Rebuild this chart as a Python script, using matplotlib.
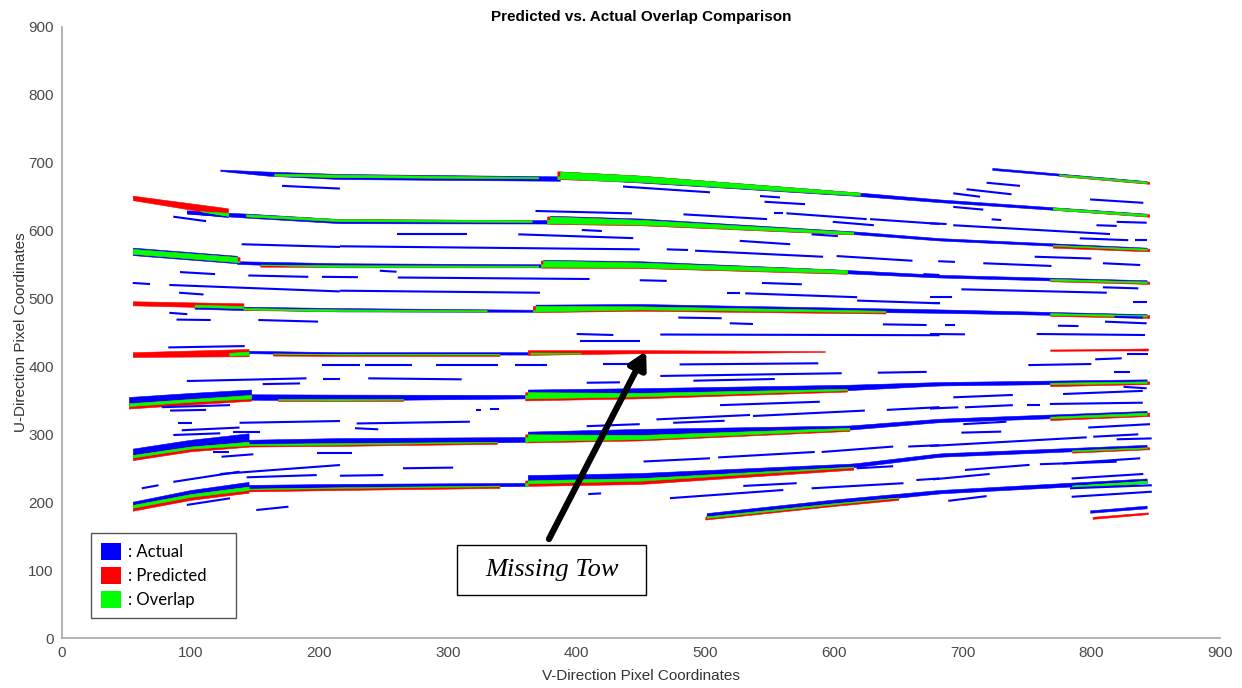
import numpy as np
import matplotlib
matplotlib.use("Agg")
import matplotlib.pyplot as plt
from matplotlib.patches import Patch, Rectangle

BLUE, RED, GREEN = "#0000ff", "#ff0000", "#00ff00"

# thick tows, each as (v points, top edge u, bottom edge u)
# course A (v ~ 55..147)
ACTUAL_A = [
    ([97, 129], [630, 626], [626, 620]),
    ([55, 136], [575, 563], [564, 552]),
    ([103, 141], [491, 489], [485, 483]),
    ([130, 145], [420, 422], [416, 417]),
    ([52, 100, 147], [355, 361, 366], [341.7, 348, 353]),
    ([55, 100, 145], [279, 292, 301.5], [266, 279, 284]),
    ([55, 100, 145], [200.8, 218, 230], [192, 208, 218]),
]
PRED_A = [
    ([55, 129], [651.5, 633], [645, 622]),
    ([55, 138], [573, 561], [566, 553.5]),
    ([55, 141], [496, 493], [490, 486]),
    ([55, 145], [421, 425.7], [414, 415]),
    ([52, 100, 147], [345.7, 352, 358], [338, 344, 349.5]),
    ([55, 100, 145], [269.6, 282, 289], [262, 275, 281.8]),
    ([55, 100, 145], [196, 212, 223], [187.5, 203.5, 214]),
]

# course B (v ~ 123..387)
ACTUAL_B = [
    ([123, 160, 216, 387], [690, 687, 683.5, 680], [688, 681, 676, 673.5]),
    ([97, 145, 216, 379], [629, 625, 617, 615.5], [625, 619, 611, 610.5]),
    ([136, 216, 374], [555, 552, 550.5], [551, 546, 546]),
    ([141, 216, 368], [488, 486, 483.5], [484, 481, 480.5]),
    ([145, 216, 362], [423, 421, 421], [419.5, 417.5, 417.5]),
    ([147, 216, 362], [359, 358.5, 358], [351, 350, 353]),
    ([145, 216, 362], [292, 294.5, 296], [284, 285, 289]),
    ([145, 216, 362], [225.5, 227, 228.5], [219, 221, 224]),
]
PRED_B = [
    ([165, 216, 370], [684, 682.5, 679], [681, 679, 677]),
    ([143, 216, 365], [624, 617, 615.5], [621, 614, 613]),
    ([154, 216, 370], [550, 549, 548.5], [547, 546.5, 546.5]),
    ([141, 216, 330], [486, 484, 483], [483, 481.5, 481]),
    ([164, 216, 340], [419, 418.5, 418.5], [416, 415.5, 415.5]),
    ([168, 265], [352, 352], [348.5, 348.5]),
    ([145, 216, 338], [286, 287, 289], [282, 283, 286]),
    ([145, 216, 340], [220, 222, 224.5], [216, 218, 221]),
]

# course C (v ~ 362..845)
ACTUAL_C = [
    ([723, 843], [692.5, 673], [689.5, 670]),
    ([387, 449, 620, 682, 843], [687, 681, 656, 646, 625], [677, 671, 651, 642, 621.5]),
    ([379, 449, 615, 682, 843], [622, 618, 599, 589, 575], [611, 609, 595, 585.5, 571.5]),
    ([374, 449, 600, 682, 843], [557, 555, 543, 535, 527], [547, 546, 538, 531, 523]),
    ([368, 449, 682, 843], [491, 492, 484, 477], [481, 484, 479, 473.5]),
    ([364, 403], [420.5, 420], [418.5, 419]),
    ([362, 449, 610, 682, 843], [366, 368, 373, 377, 381], [353, 356, 365, 372, 375.5]),
    ([362, 449, 612, 682, 843], [304, 308, 313, 323, 334.5], [290, 293, 307, 318, 328.5]),
    ([362, 449, 615, 682, 843], [240, 243, 257, 272, 284.5], [228, 231.7, 251.5, 267, 279.5]),
    ([501, 600, 682, 843], [184, 204, 218, 235], [177, 197, 213, 229]),
    ([785, 843], [224.5, 231.5], [221.5, 228.5]),
    ([799, 843], [188, 195], [184.5, 191]),
]
PRED_C = [
    ([775, 845], [683, 672], [680.5, 669]),
    ([385, 449, 620], [687.5, 681, 656], [676, 672, 652]),
    ([770, 845], [634, 624], [631, 620.5]),
    ([377, 449, 615], [621, 616, 598], [610, 608, 594.5]),
    ([770, 845], [579, 573.5], [575, 569.5]),
    ([372, 449, 610], [556, 553, 542], [545.5, 545, 536.5]),
    ([768, 845], [529, 525], [525.5, 521.5]),
    ([366, 449, 640], [489, 488.5, 482], [480, 482, 478]),
    ([768, 845], [478.5, 475.5], [474.5, 471.5]),
    ([362, 449, 548, 593], [424, 424, 423, 422.5], [417, 419.5, 420.5, 421.5]),
    ([768, 810, 844], [425, 425.5, 426.5], [423, 423.5, 423.5]),
    ([360, 449, 610], [362, 361, 367], [350, 353, 363]),
    ([768, 845], [376, 378], [371, 374]),
    ([360, 449, 612], [300, 299, 309.5], [288, 291, 305]),
    ([768, 845], [326, 332], [321, 327]),
    ([360, 449, 615], [232, 235.4, 252.5], [224, 226.8, 248]),
    ([785, 845], [276.5, 281], [273, 278]),
    ([500, 600, 650], [179, 198.5, 207], [174.5, 194.5, 203.5]),
    ([785, 843], [224.5, 231.5], [221.5, 228.5]),
    ([801, 844], [178.5, 185], [175.5, 182.5]),
]

# thin "actual" streaks: (v0, u0, v1, u1)
STREAKS_LEFT = [
    (171, 666, 216, 662), (86.5, 620.6, 112, 614), (139.6, 580, 216, 576),
    (216, 577, 449, 572.5), (91.7, 539, 119, 536), (144.8, 534, 191.4, 532),
    (202, 532, 230, 531.5), (247, 541, 260, 539.5), (261, 531, 410, 528.8),
    (55, 523, 68.4, 521.4), (83.4, 520, 216, 510.5), (216, 511.6, 371.5, 508.6),
    (91, 508.6, 110, 506), (83.4, 479, 97.4, 477), (89, 469, 115.6, 468.4),
    (152.6, 468.4, 199, 466), (82.6, 428, 142, 430), (97, 378.5, 190, 382.5),
    (156, 374, 185, 375), (202, 402, 231.6, 402), (235.5, 402, 271.8, 402),
    (291, 402, 339, 402), (352, 402, 376.7, 402), (203, 381, 216, 381),
    (238, 382.5, 310.6, 381), (77.5, 340, 130.6, 343), (84, 335, 112, 336),
    (90.4, 316, 100.8, 316), (93, 306, 138, 310), (86.5, 299, 123, 301.5),
    (138, 317, 216, 319.6), (229, 316, 317, 318.6), (227.7, 309, 245.8, 307.4),
    (133, 304, 154, 304), (117, 274, 130, 274), (124, 267, 148.7, 270.6),
    (198, 272, 225, 272), (62, 220.5, 75, 225), (86.5, 230, 138, 245),
    (123, 241.6, 216, 254.8), (143.5, 236.7, 198, 240), (216, 239, 249.7, 240),
    (265, 250, 304, 251), (97, 196, 130.6, 205.8), (151, 188.5, 176, 193.4),
    (322, 336, 326, 336), (333, 337, 340, 337),
]
STREAKS_MID = [
    (368, 629, 443, 625.5), (436, 665, 503.6, 656.5), (404, 601, 419.6, 599.5),
    (354.6, 594.6, 444, 589), (260, 595, 315, 595), (400, 447.8, 428.5, 446.3),
    (402.6, 438, 449, 438), (420.7, 403.6, 441, 403.6), (407.8, 376, 433.7, 376.6),
    (407.8, 312, 449, 315), (409, 212, 419, 213),
    (542.5, 651, 558, 649), (546, 642.6, 577.5, 639), (553, 626.5, 560.6, 626.5),
    (483, 624, 548, 617), (563, 625.6, 625.4, 617), (599, 613, 631, 608),
    (628, 617, 682, 610), (582.6, 594.6, 603, 592), (526.7, 585, 566, 580),
    (470, 572.5, 486.6, 571.5), (492, 570.5, 591.5, 561.6), (602, 562.6, 661, 555.7),
    (669.4, 536, 682, 534.7), (449, 527, 470, 526), (544, 523, 575, 521),
    (516.6, 508.6, 527, 508.6), (531, 507.7, 618, 502), (618, 497, 682, 493),
    (479, 472, 512.7, 471), (519, 463.6, 537, 462.5), (465, 447, 682, 446),
    (638, 462, 672, 461), (480, 403, 587.8, 404.6), (465, 386, 606, 390),
    (490.7, 379, 554, 381.5), (634, 390.8, 672, 392), (511.4, 343, 589, 348),
    (462, 322, 534.7, 328.5), (475, 317, 515, 320), (537, 327, 624, 335),
    (641, 336, 682, 340), (452, 260, 503.6, 264.7), (510, 266, 585, 274),
    (590.4, 274, 646, 282), (657.7, 282, 682, 284), (617.6, 250, 646, 253),
    (529.5, 224, 571, 228), (582.6, 220.5, 654, 228), (472.5, 206, 560.6, 218),
    (664, 232.7, 682, 235),
]
STREAKS_RIGHT = [
    (718.6, 670.6, 744.6, 666), (703, 661, 738, 653.6), (692.7, 655, 713.5, 650),
    (799, 646, 840.4, 641), (692.7, 635, 716, 631), (722.5, 616.7, 730, 615.7),
    (674.6, 610.8, 687.5, 609.8), (692.7, 608, 814.5, 595), (804, 608, 819.7, 607),
    (819.7, 613, 843, 611.7), (791, 588.7, 828.7, 586), (834, 586, 843, 586),
    (681, 555, 694, 554), (716, 552, 769, 548), (756, 561.6, 800, 559),
    (809, 552, 838, 549.4), (699, 513.6, 812, 508.6), (809, 516.6, 836.5, 515),
    (674.6, 502, 691.4, 502), (674.6, 493, 682, 493), (832.6, 495.4, 843, 495.4),
    (686, 461, 694, 461), (774, 460, 790, 459.5), (674.6, 447.8, 701.8, 447.3),
    (757.5, 447.8, 841.7, 446.3), (810.6, 466, 843, 463.5), (818, 473, 840, 472),
    (827.4, 417.8, 844, 417.8), (803, 410.5, 823.6, 412), (751, 402, 800, 403.6),
    (818, 392, 830, 392), (825, 370, 843, 367.8), (778, 359.4, 840, 364),
    (692.7, 354.5, 739, 358), (674.6, 338, 696.6, 339.8), (701.8, 339.8, 739, 343),
    (749.7, 343, 760, 343), (767.8, 344.7, 840, 346.6), (700.5, 315, 734, 318.6),
    (699, 302.5, 730, 304), (797.6, 310, 845.6, 315), (674.6, 282.8, 796.4, 295.6),
    (801.5, 296.5, 836.5, 300), (819.7, 292.7, 846.9, 294), (677, 233.7, 721, 241.6),
    (701.8, 247.5, 752, 255), (760, 256, 819.7, 259.7), (778, 257, 838, 264.7),
    (688.8, 202, 718.6, 209), (784.7, 235, 840.4, 241.6), (783.4, 220.5, 847, 225),
    (784.7, 208, 847, 215.5),
]

LEGEND_LABELS = [": Actual", ": Predicted", ": Overlap"]
NOTE_TEXT = "Missing Tow"
NOTE_TAIL = (378.5, 145.8)
NOTE_TIP = (454, 422.7)

TITLE = "Predicted vs. Actual Overlap Comparison"
X_LABEL = "V-Direction Pixel Coordinates"
Y_LABEL = "U-Direction Pixel Coordinates"
X_TICKS = np.arange(0, 901, 100)
Y_TICKS = np.arange(0, 901, 100)


def edges(band, xs):
    x, top, bot = band
    return np.interp(xs, x, top), np.interp(xs, x, bot)


def draw_band(ax, band, color):
    xs = np.linspace(band[0][0], band[0][-1], 80)
    top, bot = edges(band, xs)
    ax.fill_between(xs, bot, top, color=color, lw=0.4, edgecolor=color)


def draw_overlap(ax, act, pred):
    # green where the predicted tow and the actual tow cover the same pixels
    lo = max(act[0][0], pred[0][0])
    hi = min(act[0][-1], pred[0][-1])
    if hi <= lo:
        return
    xs = np.linspace(lo, hi, 240)
    at, ab = edges(act, xs)
    pt, pb = edges(pred, xs)
    top = np.minimum(at, pt)
    bot = np.maximum(ab, pb)
    if np.any(top > bot):
        ax.fill_between(xs, bot, top, where=top > bot, interpolate=True,
                        color=GREEN, lw=0.4, edgecolor=GREEN)


plt.rcParams['font.family'] = ['Liberation Sans', 'DejaVu Sans']

fig = plt.figure(figsize=(12.42, 6.88), dpi=100)
ax = fig.add_axes([62 / 1242, 50 / 688, 1158 / 1242, 611 / 688])

actual = ACTUAL_A + ACTUAL_B + ACTUAL_C
predicted = PRED_A + PRED_B + PRED_C

for v0, u0, v1, u1 in STREAKS_LEFT + STREAKS_MID + STREAKS_RIGHT:
    ax.plot([v0, v1], [u0, u1], color=BLUE, lw=1.5, solid_capstyle='butt')
for band in actual:
    draw_band(ax, band, BLUE)
for band in predicted:
    draw_band(ax, band, RED)
for a in actual:
    for p in predicted:
        draw_overlap(ax, a, p)

ax.set_xlim(0, 900)
ax.set_ylim(0, 900)
ax.set_xticks(X_TICKS)
ax.set_yticks(Y_TICKS)
ax.tick_params(length=0, labelsize=11, labelcolor='#4a4a4a', pad=6)
for side in ['top', 'right']:
    ax.spines[side].set_visible(False)
for side in ['left', 'bottom']:
    ax.spines[side].set_color('#a6a6a6')
    ax.spines[side].set_linewidth(1.2)

ax.set_title(TITLE, fontsize=11, fontweight='bold', pad=4)
ax.set_xlabel(X_LABEL, fontsize=11, color='#333333', labelpad=6)
ax.set_ylabel(Y_LABEL, fontsize=11, color='#333333', labelpad=0)

# legend
handles = [Patch(facecolor=c, edgecolor='none') for c in (BLUE, RED, GREEN)]
leg = ax.legend(handles, LEGEND_LABELS, loc='lower left',
                bbox_to_anchor=(29 / 1158, 20 / 611, 145 / 1158, 0.1),
                mode='expand', borderaxespad=0, fancybox=False,
                frameon=True, framealpha=1, edgecolor='#555555',
                prop={'family': 'Lato', 'size': 12},
                handlelength=1.2, handleheight=1.15, handletextpad=0.45,
                labelspacing=0.42, borderpad=0.6)
leg.get_frame().set_linewidth(1.0)

# annotation for the missing tow
ax.add_patch(Rectangle((307, 63.5), 147, 73.5, facecolor='white',
                       edgecolor='black', lw=1.0, zorder=5))
ax.text(380.5, 100, NOTE_TEXT, ha='center', va='center', fontsize=19,
        family='Liberation Serif', style='italic', zorder=6)
ax.annotate('', xy=NOTE_TIP, xytext=NOTE_TAIL, zorder=6,
            arrowprops=dict(arrowstyle='-|>,head_length=1.0,head_width=0.55',
                            lw=4.5, color='black', shrinkA=0, shrinkB=0))

fig.savefig('out.png', dpi=100)
